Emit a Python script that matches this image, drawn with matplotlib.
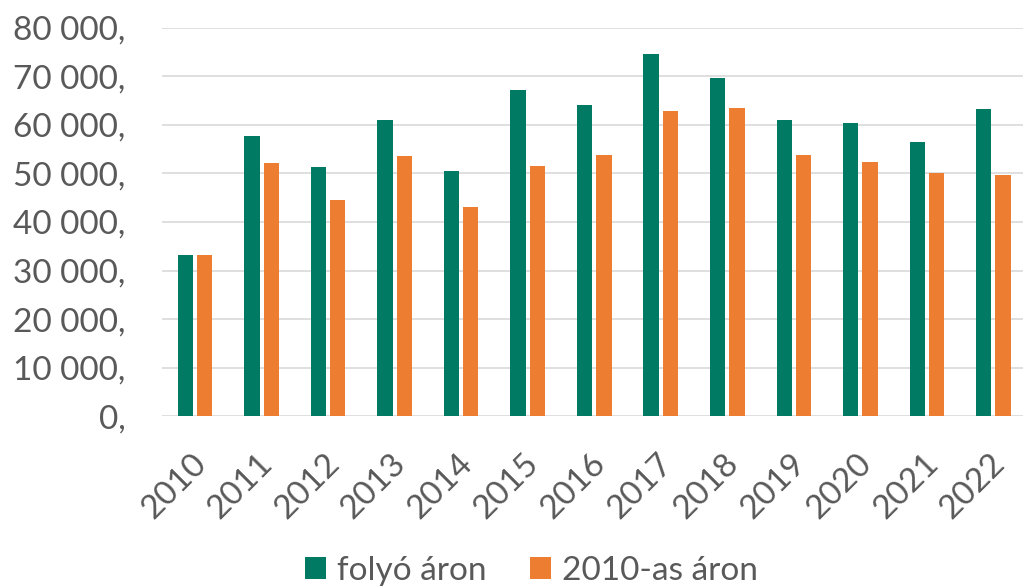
import numpy as np
import matplotlib.pyplot as plt
import matplotlib.transforms as mtransforms

years = ['2010', '2011', '2012', '2013', '2014', '2015', '2016',
         '2017', '2018', '2019', '2020', '2021', '2022']
folyo = [33200, 57800, 51300, 61100, 50600, 67100, 64000,
         74600, 69600, 60900, 60300, 56500, 63300]
aron2010 = [33200, 52100, 44500, 53500, 43100, 51500, 53800,
            62900, 63500, 53700, 52400, 50000, 49600]
yticks = [0, 10000, 20000, 30000, 40000, 50000, 60000, 70000, 80000]
ylabels = ['0,', '10 000,', '20 000,', '30 000,', '40 000,',
           '50 000,', '60 000,', '70 000,', '80 000,']

plt.rcParams['font.family'] = ['Lato', 'DejaVu Sans']
grey = '#595959'

fig = plt.figure(figsize=(10.23, 5.88), dpi=100)
ax = fig.add_axes([161.7 / 1023, 1 - 416.3 / 588, 865 / 1023, 388.6 / 588])

x = np.arange(len(years))
w = 0.23
ax.bar(x - 0.145, folyo, w, color='#017A64', label='folyó áron', zorder=3)
ax.bar(x + 0.145, aron2010, w, color='#ED7D31', label='2010-as áron', zorder=3)

ax.set_xlim(-0.5, len(years) - 0.5)
ax.set_ylim(0, 80000)
ax.set_yticks(yticks)
ax.set_yticklabels(ylabels)
ax.set_xticks(x)
ax.set_xticklabels(years, rotation=45, ha='right', rotation_mode='anchor')
ax.tick_params(axis='both', length=0, labelsize=24, labelcolor=grey)
ax.tick_params(axis='y', pad=26)
ax.tick_params(axis='x', pad=23)
shift = mtransforms.ScaledTranslation(-4 / 100, 0, fig.dpi_scale_trans)
for lab in ax.get_xticklabels():
    lab.set_transform(lab.get_transform() + shift)
ax.grid(axis='y', color='#D9D9D9', linewidth=1.2, zorder=0)
for s in ax.spines.values():
    s.set_visible(False)

ax.legend(loc='center', bbox_to_anchor=(531.5 / 1023, 1 - 571 / 588), ncol=2,
          bbox_transform=fig.transFigure, frameon=False, fontsize=24,
          labelcolor=grey, handlelength=0.63, handleheight=0.63,
          handletextpad=0.33, columnspacing=1.29, borderpad=0)

fig.savefig('out.png', dpi=100)
